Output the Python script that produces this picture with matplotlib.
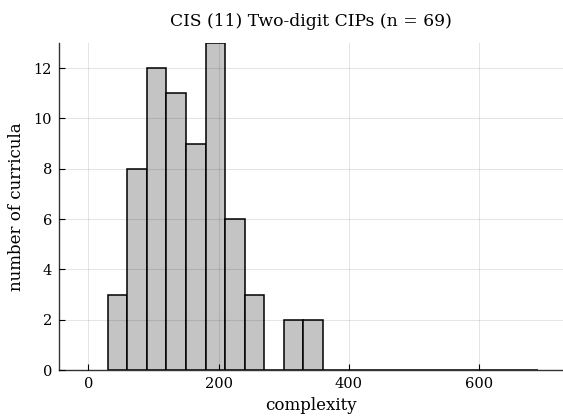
import numpy as np
import matplotlib
matplotlib.use("Agg")
import matplotlib.pyplot as plt

# Histogram of curricular complexity
bin_edges = list(range(30, 720, 30))          # 30 .. 690
counts = [3, 8, 12, 11, 9, 13, 6, 3, 0, 2, 2,
          0, 0, 0, 0, 0, 0, 0, 0, 0, 0, 0]
title = "CIS (11) Two-digit CIPs (n = 69)"
xlabel = "complexity"
ylabel = "number of curricula"
xticks = [0, 200, 400, 600]
yticks = [0, 2, 4, 6, 8, 10, 12]

plt.rcParams["font.family"] = ["DejaVu Serif"]

fig = plt.figure(figsize=(5.63, 4.17), dpi=100)
ax = fig.add_axes([59 / 563, 1 - 370 / 417, 1 - 59 / 563, (370 - 43) / 417])

edges = np.array(bin_edges)
ax.bar(edges[:-1], counts, width=np.diff(edges), align="edge",
       color="#c4c4c4", edgecolor="black", linewidth=1.1, zorder=1)

ax.set_xlim(-45, 729)
ax.set_ylim(0, 13)
ax.set_xticks(xticks)
ax.set_yticks(yticks)
# faint grid drawn over the bars, as in the reference
ax.grid(True, color="black", alpha=0.1, linewidth=0.8, zorder=2)
ax.set_axisbelow(False)

for s in ("top", "right"):
    ax.spines[s].set_visible(False)
for s in ("left", "bottom"):
    ax.spines[s].set_linewidth(1.0)
    ax.spines[s].set_color("#333333")
ax.tick_params(direction="in", length=4, width=0.8, labelsize=10.5, pad=5)

ax.set_title(title, fontsize=12.3, pad=12)
ax.set_xlabel(xlabel, fontsize=12, labelpad=4)
ax.set_ylabel(ylabel, fontsize=12, labelpad=6)

fig.savefig("out.png", dpi=100)
